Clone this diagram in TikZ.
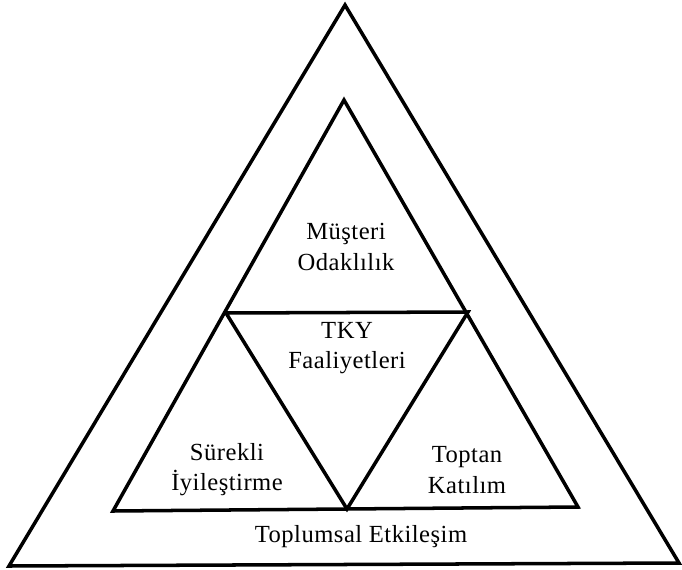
\documentclass[tikz,border=0pt]{standalone}
\usepackage{fontspec}
\usepackage{tikz}
\newfontfamily\labelfont[LetterSpace=2]{Liberation Serif}
\tikzset{
  tri/.style={line width=5pt, line join=miter},
  lbl/.style={align=center, inner sep=0pt, font=\labelfont\fontsize{35}{43}\selectfont}
}

\begin{document}
\begin{tikzpicture}[x=0.05cm, y=-0.05cm]
    \useasboundingbox (0,0) rectangle (682,570);
    % outer triangle
    \coordinate (otop) at (345,5);
    \coordinate (oleft) at (9,566);
    \coordinate (oright) at (679,563);
    % inner triangle
    \coordinate (itop) at (344,100);
    \coordinate (ileft) at (113,511);
    \coordinate (iright) at (578,507);
    \coordinate (mleft) at (226,313);
    \coordinate (mright) at (468,312);
    \coordinate (mbot) at (347,509);

    \draw[tri] (otop) -- (oright) -- (oleft) -- cycle;
    \draw[tri] (itop) -- (iright) -- (ileft) -- cycle;
    \draw[tri] (mleft) -- (mright) -- (mbot) -- cycle;

    \node[lbl] (musteri) at (346,247) {Müşteri\\Odaklılık};
    \node[lbl] (tky) at (347,348) {TKY\\Faaliyetleri};
    \node[lbl] (surekli) at (227,470) {Sürekli\\İyileştirme};
    \node[lbl] (toptan) at (467,470) {Toptan\\Katılım};
    \node[lbl] (toplum) at (361,537) {Toplumsal Etkileşim};
  \end{tikzpicture}
\end{document}
